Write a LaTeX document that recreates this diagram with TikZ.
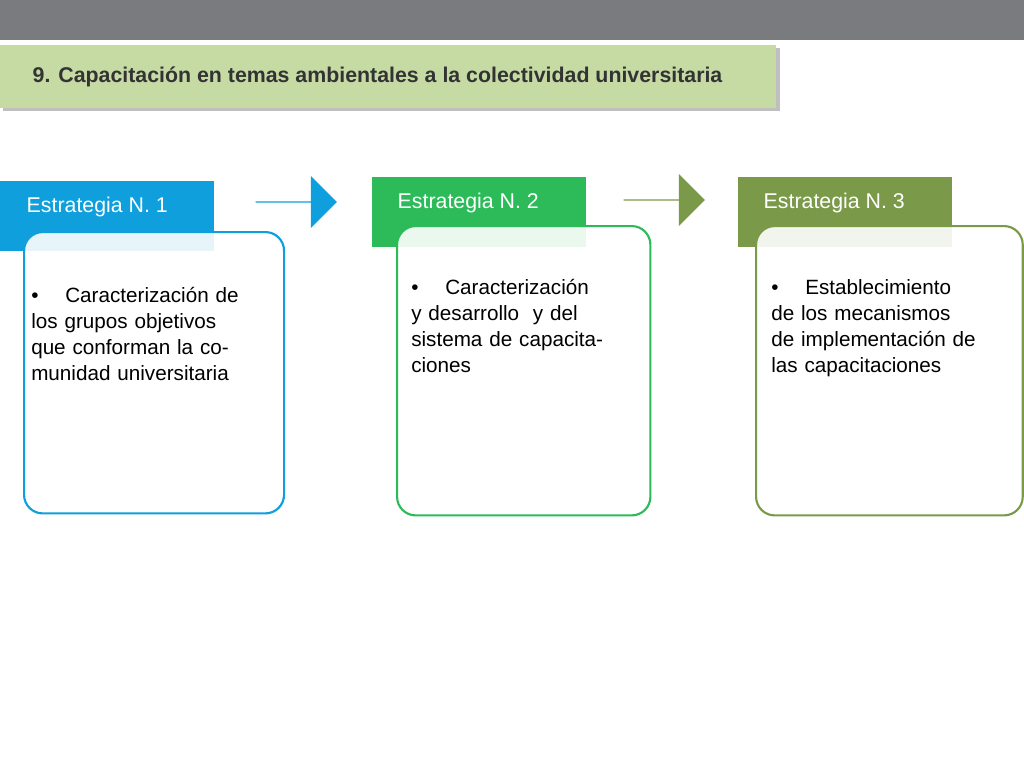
\documentclass[tikz,border=0pt]{standalone}
\usepackage{fontspec}
\setmainfont{Liberation Sans}
\usetikzlibrary{positioning,shapes.arrows}
\definecolor{barGray}{HTML}{7A7B7E}
\definecolor{titleGreen}{HTML}{C6DAA4}
\definecolor{azul}{HTML}{0E9FDC}
\definecolor{verde}{HTML}{2DBB5A}
\definecolor{oliva}{HTML}{7A9A4A}
\newcommand{\vineta}[1]{\hangindent=25.5pt\hangafter=1\makebox[25.5pt][l]{\textbullet}#1}
\begin{document}
\begin{tikzpicture}[x=0.75pt,y=-0.75pt]
	\tikzstyle{tab}=[anchor=north west,minimum width=160.5pt,minimum height=52pt,inner sep=0pt]
	\tikzstyle{tabtxt}=[anchor=west,text=white,font=\fontsize{16}{19}\selectfont]
	\tikzstyle{card}=[anchor=north west,draw,line width=1.6pt,rounded corners=14pt,fill=white,fill opacity=0.9,text opacity=1,inner sep=0pt]
	\tikzstyle{txt}=[anchor=north west,text width=162pt,align=left,inner sep=0pt,font=\fontsize{15.5}{19.5}\selectfont]
	\tikzstyle{flecha}=[single arrow,minimum height=61pt,minimum width=39pt,single arrow head extend=8pt,single arrow head indent=0pt,inner sep=0pt,shape border rotate=0,draw=none]
	\useasboundingbox (0,0) rectangle (1024,768);
	\fill[barGray] (0,0) rectangle (1024,40);
	\fill[black!25] (3,48) rectangle (780,111);
	\node[anchor=north west,fill=titleGreen,minimum width=582pt,minimum height=47pt,inner sep=0pt] (title) at (0,45) {};
	\node[anchor=west,font=\fontsize{16}{19}\selectfont\bfseries,text=black!80] at (28,77) {9. Capacitación en temas ambientales a la colectividad universitaria};
	% estrategia 1
	\node[tab,fill=azul] (t1) at (0,181) {};
	\node[tabtxt] at (22,207) {Estrategia N. 1};
	\node[card,draw=azul,minimum width=195pt,minimum height=211pt] (c1) at (23,231) {};
	\node[txt] (x1) at (31,287) {\vineta{Caracterización de los grupos objetivos que conforman la comunidad universitaria}};
	% estrategia 2
	\node[tab,fill=verde] (t2) at (372,177) {};
	\node[tabtxt] at (393,203) {Estrategia N. 2};
	\node[card,draw=verde,minimum width=190pt,minimum height=217pt] (c2) at (396,225) {};
	\node[txt] (x2) at (411,279) {\vineta{Caracterización y desarrollo~ y del sistema de capacitaciones}};
	% estrategia 3
	\node[tab,fill=oliva] (t3) at (738,177) {};
	\node[tabtxt] at (759,203) {Estrategia N. 3};
	\node[card,draw=oliva,minimum width=200pt,minimum height=217pt] (c3) at (755,225) {};
	\node[txt,text width=155pt] (x3) at (771,279) {\vineta{Establecimiento de los mecanismos de implementación de las capacitaciones}};
	% flechas
	\node[flecha,fill=azul] (a1) at (296,202) {};
	\node[flecha,fill=oliva] (a2) at (664,200) {};
\end{tikzpicture}
\end{document}
